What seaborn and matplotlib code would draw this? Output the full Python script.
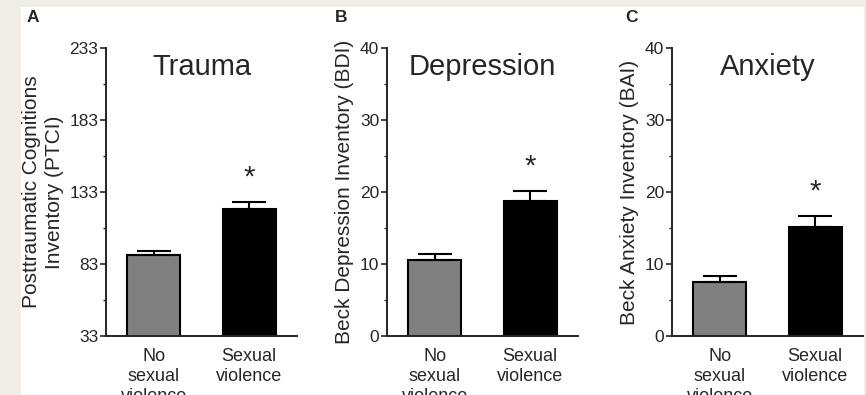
import matplotlib
matplotlib.use('Agg')
import matplotlib.pyplot as plt
import seaborn as sns
from matplotlib.ticker import AutoMinorLocator
from matplotlib.patches import Rectangle

# data
groups = ['No\nsexual\nviolence', 'Sexual\nviolence']
trauma_mean = [89.3, 121.2]
trauma_sem = [2.8, 4.8]
depression_mean = [10.6, 18.7]
depression_sem = [0.8, 1.4]
anxiety_mean = [7.5, 15.1]
anxiety_sem = [0.8, 1.5]

titles = ['Trauma', 'Depression', 'Anxiety']
letters = ['A', 'B', 'C']
ylabels = ['Posttraumatic Cognitions\nInventory (PTCI)',
           'Beck Depression Inventory (BDI)',
           'Beck Anxiety Inventory (BAI)']
yticks_list = [[33, 83, 133, 183, 233], [0, 10, 20, 30, 40], [0, 10, 20, 30, 40]]

sns.set_style('ticks')
plt.rcParams['font.family'] = ['Liberation Sans', 'DejaVu Sans']

fig = plt.figure(figsize=(8.66, 3.95), dpi=100)
fig.patch.set_facecolor('#f1eee8')
fig.patches.append(Rectangle((21/866, 0), 1 - 23/866, 1 - 7/395, transform=fig.transFigure,
                             facecolor='white', edgecolor='none', zorder=-1))

lefts = [106/866, 387/866, 672/866]
width = 191/866
bottom = 1 - 336/395
height = 288/395
letter_x = [33, 341, 631]

means = [trauma_mean, depression_mean, anxiety_mean]
sems = [trauma_sem, depression_sem, anxiety_sem]

for i in range(3):
    ax = fig.add_axes([lefts[i], bottom, width, height])
    ax.set_facecolor('none')
    sns.barplot(x=groups, y=means[i], hue=groups, palette=['#808080', '#000000'],
                legend=False, edgecolor='black', linewidth=1.5, width=0.55,
                saturation=1, ax=ax)
    ax.errorbar(x=[0, 1], y=means[i], yerr=[[0, 0], sems[i]], fmt='none',
                ecolor='black', elinewidth=1.5, capsize=12, capthick=1.5, zorder=1)
    yt = yticks_list[i]
    ax.set_ylim(yt[0], yt[-1])
    ax.set_yticks(yt)
    ax.yaxis.set_minor_locator(AutoMinorLocator(2))
    ax.set_xlim(-0.5, 1.5)
    sns.despine(ax=ax)
    for s in ['left', 'bottom']:
        ax.spines[s].set_linewidth(1.4)
    ax.tick_params(axis='y', which='major', direction='out', length=4, width=1.2,
                   pad=1.5, labelsize=12.5)
    ax.tick_params(axis='y', which='minor', direction='out', length=2.5, width=1)
    ax.tick_params(axis='x', length=0, pad=8.5, labelsize=13)
    for lbl in ax.get_xticklabels():
        lbl.set_linespacing(1.25)
    ax.set_ylabel(ylabels[i], fontsize=15, labelpad=4, linespacing=1.25)
    ax.set_xlabel('')
    ax.text(0.5, 0.934, titles[i], transform=ax.transAxes, ha='center', va='center',
            fontsize=21)
    # significance marker above the sexual violence bar
    ax.annotate('*', xy=(1, means[i][1] + sems[i][1]), xytext=(0, 18),
                textcoords='offset points', ha='center', va='center', fontsize=21)
    fig.text(letter_x[i]/866, 1 - 17/395, letters[i], ha='center', va='center',
             fontsize=12.5, fontweight='bold')

fig.savefig('out.png', dpi=100, facecolor=fig.get_facecolor())
